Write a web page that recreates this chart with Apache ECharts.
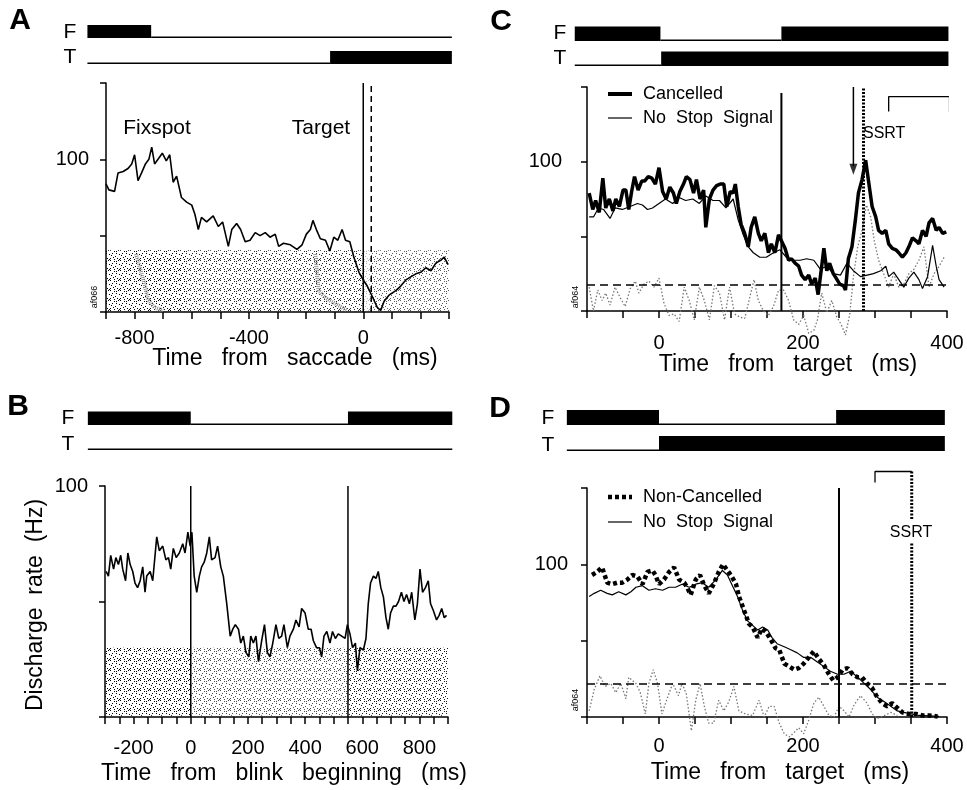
<!DOCTYPE html>
<html>
<head>
<meta charset="utf-8">
<script src="https://cdn.jsdelivr.net/npm/echarts/dist/echarts.min.js"></script>
<style>
  html, body { margin: 0; padding: 0; background: #fff; }
  #chart { width: 967px; height: 790px; }
</style>
</head>
<body>
<div id="chart"></div>
<script>
// ---------- Panel A: activity aligned on saccade ----------
const saccadeTime = [-900,-890,-870,-858,-840,-823,-810,-800,-788,-776,
  -762,-750,-740,-730,-718,-703,-689,-677,-665,-653,
  -636,-618,-600,-589,-577,-566,-548,-525,-507,-492,
  -472,-460,-443,-429,-413,-396,-378,-361,-343,-326,
  -308,-296,-279,-255,-232,-214,-199,-185,-176,-164,
  -150,-132,-117,-103,-89,-74,-62,-47,-33,-15,
  0,14,32,49,61,73,90,114,131,149,
  166,184,201,219,237,254,272,283,297];
const saccadeRate = [84,80,79,91,92,94,97,103,86,91,
  97,100,108,97,100,104,99,103,85,89,
  75,72,70,64,54,62,59,63,56,59,
  43,54,58,54,46,47,52,50,52,49,
  51,43,45,44,41,44,51,54,60,54,
  48,47,40,49,47,54,47,46,36,26,
  21,17,10,3,1,7,11,14,17,21,
  23,25,26,29,27,32,34,36,31];
const saccadeEnd = 28;                    // dashed marker after saccade onset
// fixation spot / target presence: [start, end, on]
const fixspotA = [[-965,-742,1],[-742,310,0]];
const targetA  = [[-965,-116,0],[-116,310,1]];
// trial alignment streaks in the raster: [time, rasterRow]
const fixStreakT = [-795,-780,-765,-753,-730,-700];
const fixStreakY = [38,28,18,8,3,1];
const tgtStreakT = [-168,-162,-156,-130,-103,-56];
const tgtStreakY = [38,26,14,9,6,1];

// ---------- Panel B: activity aligned on blink ----------
const blinkTime = [-296,-288,-280,-270,-262,-253,-245,-238,-228,-220,
  -212,-203,-195,-186,-177,-168,-160,-154,-142,-133,
  -119,-110,-98,-87,-78,-70,-61,-51,-40,-28,
  -20,-10,-2,4,12,21,30,38,47,56,
  65,73,85,94,105,114,126,138,147,156,
  167,175,184,193,203,210,219,228,237,248,
  258,268,277,287,298,308,318,326,338,347,
  359,368,379,388,400,411,421,429,440,450,
  458,466,476,487,496,506,516,528,540,548,
  557,566,576,583,592,604,613,621,629,639,
  648,656,665,674,683,691,699,709,718,727,
  737,746,755,765,773,784,793,802,811,821,
  831,839,849,860,869,878,887,895];
const blinkRate = [63,61,70,64,69,66,70,64,59,71,
  66,63,58,56,59,65,54,61,63,59,
  78,72,74,68,69,64,73,69,71,75,
  71,80,74,80,61,54,61,65,67,71,
  78,68,69,74,65,61,49,35,38,40,
  38,32,35,28,26,35,32,35,24,33,
  40,28,26,32,40,34,35,40,30,35,
  38,42,39,47,45,38,38,33,30,30,
  26,35,37,32,37,34,36,35,34,40,
  36,30,32,20,30,29,34,49,58,61,
  60,63,56,52,43,38,45,48,48,50,
  54,50,53,49,54,42,49,64,54,56,
  59,49,46,42,44,47,43,44];
const blinkMarks = [0, 550];
const fixspotB = [[-360,0,1],[0,550,0],[550,915,1]];
const targetB  = [[-360,915,0]];

// ---------- Panel C: cancelled vs no-stop-signal trials ----------
const cTime = [-97,-92,-88,-83,-78,-74,-69,-64,-60,-55,
  -50,-46,-42,-38,-34,-29,-24,-20,-15,-10,
  -5,0,5,10,15,20,24,29,34,38,
  43,48,52,57,62,65,70,75,80,85,
  90,94,99,103,106,110,114,119,124,128,
  133,138,142,147,152,156,161,166,170,175,
  180,184,189,194,198,203,208,212,217,221,
  226,229,233,237,242,246,251,256,259,263,
  268,273,277,282,287,291,296,301,305,310,
  315,319,324,329,333,338,343,347,352,357,
  361,366,371,375,380,385,389,394,399];
const cancelledRate = [79,68,74,66,89,69,75,67,75,70,
  81,81,68,80,90,81,87,87,90,89,
  85,96,80,75,83,79,72,80,85,90,
  88,79,88,75,81,56,75,81,84,85,
  85,70,80,79,85,70,58,52,43,56,
  63,52,47,52,39,45,39,51,47,42,
  34,35,32,30,24,21,24,18,22,11,
  30,42,27,32,25,22,18,17,14,35,
  43,62,79,88,101,87,70,63,54,52,
  54,45,42,41,39,36,39,43,49,47,
  45,54,50,59,62,54,56,52,53];
const cNoStopTime = [-97,-91,-84,-77,-68,-61,-51,-40,-30,-23,
  -16,-9,0,9,19,28,37,47,56,65,
  75,84,93,103,110,117,124,131,140,149,
  159,168,177,187,196,205,215,224,233,242,
  252,261,270,280,289,298,308,315,319,326,
  333,340,347,354,361,366,373,380,385,389,
  396];
const cNoStopRate = [63,63,69,68,62,69,68,70,72,71,
  68,69,72,75,72,76,74,75,72,77,
  74,74,69,75,61,51,43,39,36,36,
  39,41,36,34,34,35,34,28,30,25,
  24,32,27,23,24,25,27,30,23,26,
  21,16,22,26,21,15,23,44,30,21,
  16];
const cDiffTime = [-97,-91,-85,-79,-74,-68,-61,-54,-47,-40,
  -33,-28,-21,-14,-7,0,7,14,21,28,
  35,42,49,56,63,70,77,84,91,98,
  105,112,119,126,132,138,145,152,159,166,
  173,180,187,194,201,208,215,220,226,233,
  240,247,253,259,265,270,276,282,288,294,
  299,305,312,319,326,333,340,347,354,361,
  368,375,382,389,396];
const cDiffRate = [16,0,14,7,12,4,16,9,3,15,
  20,12,18,20,16,22,5,-3,-2,-7,
  16,7,-6,16,7,-6,17,12,-6,16,
  -2,-4,-5,9,21,7,0,-3,3,14,
  14,7,-6,-9,-3,-15,-13,-6,12,-1,
  7,-4,-9,-16,-2,23,43,54,71,63,
  47,34,25,16,25,16,18,25,28,34,
  43,16,25,30,36];
const cStopDelay = 170, cDivergence = 270, cSSRT = 284, cCriterion = 17.4;
const cBracket = [319, 403];
const fixspotC = [[-117,2,1],[2,170,0],[170,402,1]];
const targetC  = [[-117,3,0],[3,402,1]];

// ---------- Panel D: non-cancelled vs no-stop-signal trials ----------
const dTime = [-93,-86,-79,-72,-65,-58,-51,-44,-37,-30,
  -23,-16,-9,-5,0,7,14,21,28,35,
  39,44,51,57,63,69,76,83,89,95,
  101,107,111,118,125,130,137,143,148,155,
  162,167,174,181,188,194,201,208,215,222,
  229,236,242,248,255,262,269,276,282,289,
  296,303,310,317,324,331,338,347,357,366,
  375,387];
const nonCancelledRate = [93,95,98,88,87,88,88,90,93,92,
  87,95,96,93,87,90,95,98,90,88,
  85,80,90,93,86,81,87,95,100,96,
  92,87,79,70,61,59,52,58,56,51,
  45,44,35,33,31,32,35,39,43,38,
  34,28,24,26,31,32,28,26,26,22,
  19,13,9,7,9,6,3,2,2,1,
  1,0.4];
const dNoStopTime = [-97,-90,-81,-72,-65,-56,-46,-39,-32,-23,
  -14,-5,5,14,23,32,42,51,60,69,
  79,88,95,102,109,116,123,130,137,144,
  151,157,164,174,183,192,201,211,220,229,
  238,248,257,266,276,285,294,303,313,322,
  331,340,350,361,375,389];
const dNoStopRate = [79,81,83,81,80,82,80,82,85,86,
  83,84,83,85,85,87,85,87,88,85,
  90,96,93,86,79,70,63,60,57,59,
  57,52,48,46,44,42,39,39,36,33,
  30,28,28,30,26,22,18,13,10,7,
  4,3,2,1,0.7,0.4];
const dDiffTime = [-97,-90,-82,-75,-67,-60,-53,-46,-42,-32,
  -26,-19,-14,-8,-2,4,12,19,27,32,
  38,45,51,57,63,69,76,83,90,97,
  104,111,120,130,139,146,153,160,167,174,
  181,188,194,201,208,215,222,229,236,243,
  250,257,264,271,280,289,296,303,313,322,
  331];
const dDiffRate = [4,18,27,20,22,16,22,12,26,22,
  16,2,22,31,22,2,13,22,14,22,
  15,-9,11,22,7,-4,-4,11,4,10,
  20,4,2,1,11,0,7,7,-4,-11,
  -13,-10,-7,-11,-2,9,13,7,1,0,
  7,4,0,8,14,9,2,-1,1,3,
  1];
const dStopDelay = 250, dSSRT = 351, dCriterion = 21.6;
const dBracket = [300, 351];
const fixspotD = [[-128,0,1],[0,246,0],[246,397,1]];
const targetD  = [[-128,0,0],[0,397,1]];

// ---------- layout ----------
const FONT = '"Liberation Sans", Arial, sans-serif';
const plots = [
  { left: 106, top: 83,  width: 343, height: 229, xMin: -900, xMax: 300, xStep: 100, labelEvery: 400, yMax: 150, xMargin: 16, yMargin: 17 },
  { left: 105, top: 486, width: 343, height: 231, xMin: -300, xMax: 900, xStep: 50,  labelEvery: 200, yMax: 100, xMargin: 21, yMargin: 17 },
  { left: 587, top: 87,  width: 360, height: 224, xMin: -100, xMax: 400, xStep: 50,  labelEvery: 200, yMax: 150, xMargin: 22, yMargin: 25 },
  { left: 587, top: 488, width: 360, height: 229, xMin: -100, xMax: 400, xStep: 50,  labelEvery: 200, yMax: 150, xMargin: 19, yMargin: 19 }
];
// event strips: time span, baseline of F row, baseline of T row, bar thickness
const strips = [
  { span: [-965, 310], fBase: 38,  tBase: 64,  thick: 13, fix: fixspotA, tgt: targetA },
  { span: [-360, 915], fBase: 425, tBase: 450, thick: 13.5, fix: fixspotB, tgt: targetB },
  { span: [-117, 402], fBase: 41,  tBase: 66,  thick: 14.5, fix: fixspotC, tgt: targetC },
  { span: [-128, 397], fBase: 425, tBase: 451, thick: 15, fix: fixspotD, tgt: targetD }
];

const grids = [], xAxes = [], yAxes = [];
plots.forEach((p, i) => {
  grids.push({ left: p.left, top: p.top, width: p.width, height: p.height });
  xAxes.push({
    type: 'value', gridIndex: i, min: p.xMin, max: p.xMax, interval: p.xStep,
    axisLine: { show: true, onZero: false, lineStyle: { color: '#000', width: 1.5 } },
    axisTick: { show: true, length: 7, lineStyle: { color: '#000', width: 1.5 } },
    splitLine: { show: false },
    axisLabel: { margin: p.xMargin, color: '#000', fontSize: 20, fontFamily: FONT,
      formatter: v => (v % p.labelEvery === 0 ? String(v) : '') }
  });
  yAxes.push({
    type: 'value', gridIndex: i, min: 0, max: p.yMax, interval: 50,
    axisLine: { show: true, onZero: false, lineStyle: { color: '#000', width: 1.5 } },
    axisTick: { show: true, length: 6, lineStyle: { color: '#000', width: 1.5 } },
    splitLine: { show: false },
    axisLabel: { margin: p.yMargin, color: '#000', fontSize: 20, fontFamily: FONT, showMaxLabel: true,
      formatter: v => (v === 100 ? '100' : '') }
  });
});
strips.forEach((s, i) => {
  const p = plots[i];
  const scale = p.width / (p.xMax - p.xMin);
  grids.push({
    left: p.left + (s.span[0] - p.xMin) * scale,
    width: (s.span[1] - s.span[0]) * scale,
    top: s.fBase, height: s.tBase - s.fBase
  });
  xAxes.push({ type: 'value', gridIndex: 4 + i, min: s.span[0], max: s.span[1], show: false });
  yAxes.push({ type: 'value', gridIndex: 4 + i, min: 0, max: 1, show: false });
});

// ---------- series helpers ----------
function pairs(xs, ys) { return xs.map((x, k) => [x, ys[k]]); }
function curve(ax, xs, ys, style, z) {
  return {
    type: 'line', xAxisIndex: ax, yAxisIndex: ax, data: pairs(xs, ys),
    symbol: 'none', showSymbol: false, clip: false, silent: true, z: z || 5,
    lineStyle: Object.assign({ color: '#000', width: 1.5 }, style)
  };
}
function segment(ax, pts, style, z) {
  return {
    type: 'line', xAxisIndex: ax, yAxisIndex: ax, data: pts,
    symbol: 'none', showSymbol: false, clip: false, silent: true, z: z || 4,
    lineStyle: Object.assign({ color: '#000', width: 1.5 }, style)
  };
}
// stippled fill used for the spike rasters
const STIPPLE_DOTS = [[0,0],[4,1],[8,0],[2,3],[6,3],[9,4],[1,5],[5,6],[3,7],[7,8],[0,8],[9,9],[4,9],[6,1]];
function stipple(alpha) {
  const c = document.createElement('canvas');
  c.width = 10; c.height = 10;
  const g = c.getContext('2d');
  g.fillStyle = 'rgba(0,0,0,' + alpha + ')';
  STIPPLE_DOTS.forEach(q => g.fillRect(q[0], q[1], 1, 1));
  return { image: c, repeat: 'repeat' };
}
function raster(ax, blocks, top) {
  return {
    type: 'line', xAxisIndex: ax, yAxisIndex: ax, data: [], z: 1, silent: true,
    markArea: {
      silent: true,
      data: blocks.map(b => [
        { xAxis: b[0], yAxis: 0.5, itemStyle: { color: stipple(b[2]) } },
        { xAxis: b[1], yAxis: top }
      ])
    }
  };
}
function events(i) {
  const s = strips[i];
  const data = s.fix.map(r => [r[0], r[1], 1, r[2]]).concat(s.tgt.map(r => [r[0], r[1], 0, r[2]]));
  return {
    type: 'custom', xAxisIndex: 4 + i, yAxisIndex: 4 + i, data, silent: true, clip: false,
    encode: { x: [0, 1], y: 2 },
    renderItem: (params, api) => {
      const a = api.coord([api.value(0), api.value(2)]);
      const b = api.coord([api.value(1), api.value(2)]);
      if (api.value(3)) {
        return { type: 'rect', shape: { x: a[0], y: a[1] - s.thick, width: b[0] - a[0], height: s.thick },
                 style: { fill: '#000' } };
      }
      return { type: 'line', shape: { x1: a[0], y1: a[1] - 0.7, x2: b[0], y2: b[1] - 0.7 },
               style: { stroke: '#000', lineWidth: 1.5 } };
    }
  };
}

const series = [
  // A
  raster(0, [[-900, -620, 1], [-620, 0, 0.85], [0, 25, 0.3], [25, 300, 0.65]], 40.5),
  segment(0, pairs(fixStreakT, fixStreakY), { color: '#999', width: 4, type: [1, 1] }, 2),
  segment(0, pairs(tgtStreakT, tgtStreakY), { color: '#999', width: 4, type: [1, 1] }, 2),
  segment(0, [[0, 0], [0, 150]], { width: 1.5 }),
  segment(0, [[saccadeEnd, 0], [saccadeEnd, 150]], { width: 1.5, type: [6, 4] }),
  curve(0, saccadeTime, saccadeRate, { width: 1.6 }),
  // B
  raster(1, [[-300, 0, 1], [0, 550, 0.7], [550, 900, 0.9]], 30),
  segment(1, [[blinkMarks[0], 0], [blinkMarks[0], 100]], { width: 1.5 }),
  segment(1, [[blinkMarks[1], 0], [blinkMarks[1], 100]], { width: 1.5 }),
  curve(1, blinkTime, blinkRate, { width: 1.6 }),
  // C
  segment(2, [[-100, cCriterion], [400, cCriterion]], { width: 1.5, type: [8, 5] }),
  segment(2, [[cStopDelay, 0], [cStopDelay, 146]], { width: 2 }),
  segment(2, [[cDivergence, 150], [cDivergence, 97]], { width: 1.5 }),
  {
    type: 'scatter', xAxisIndex: 2, yAxisIndex: 2, data: [[cDivergence, 95]], silent: true, z: 6,
    symbol: 'triangle', symbolRotate: 180, symbolSize: [8, 11], itemStyle: { color: '#000' }
  },
  segment(2, [[cSSRT, 0], [cSSRT, 149]], { width: 3, type: [2, 1.5] }, 6),
  segment(2, [[cBracket[0], 133.6], [cBracket[0], 143.6], [cBracket[1], 143.6]], { width: 1.3 }),
  segment(2, [[cBracket[1], 143.6], [cBracket[1], 133]], { width: 1.3, color: '#777', type: [1, 1] }),
  curve(2, cDiffTime, cDiffRate, { width: 1.3, color: '#777', type: [1.5, 2] }, 3),
  curve(2, cNoStopTime, cNoStopRate, { width: 1.2 }, 5),
  curve(2, cTime, cancelledRate, { width: 3.5 }, 6),
  // D
  segment(3, [[-100, dCriterion], [400, dCriterion]], { width: 1.5, type: [8, 5] }),
  segment(3, [[dStopDelay, 0], [dStopDelay, 150]], { width: 2 }),
  segment(3, [[dSSRT, 160.8], [dSSRT, 128.8]], { width: 3, type: [2, 1.5] }, 6),
  segment(3, [[dSSRT, 113.7], [dSSRT, 0]], { width: 3, type: [2, 1.5] }, 6),
  segment(3, [[dBracket[0], 153.6], [dBracket[0], 160.8], [dBracket[1], 160.8]], { width: 1.3 }),
  curve(3, dDiffTime, dDiffRate, { width: 1.3, color: '#777', type: [1.5, 2] }, 3),
  curve(3, dNoStopTime, dNoStopRate, { width: 1.2 }, 5),
  curve(3, dTime, nonCancelledRate, { width: 4.5, type: [4, 3] }, 6),
  // event strips
  events(0), events(1), events(2), events(3)
];

// ---------- text ----------
function txt(x, y, text, size, opts) {
  opts = opts || {};
  return {
    type: 'text', x, y, rotation: opts.rotation || 0, silent: true, z: 10,
    style: {
      text, fill: '#000',
      font: (opts.bold ? 'bold ' : '') + size + 'px ' + FONT,
      align: opts.align || 'center', textAlign: opts.align || 'center',
      verticalAlign: 'middle', textVerticalAlign: 'middle'
    }
  };
}
function sample(x1, x2, y, width, dash) {
  return { type: 'line', silent: true, z: 10,
    shape: { x1, y1: y, x2, y2: y },
    style: { stroke: '#000', lineWidth: width, lineDash: dash || null } };
}
const graphics = [
  txt(20, 21, 'A', 30, { bold: true }),
  txt(18, 407, 'B', 30, { bold: true }),
  txt(501, 22, 'C', 30, { bold: true }),
  txt(500, 409, 'D', 30, { bold: true }),
  txt(70, 32, 'F', 21), txt(70, 57, 'T', 21),
  txt(68, 418, 'F', 21), txt(68, 444, 'T', 21),
  txt(560, 33, 'F', 21), txt(560, 58, 'T', 21),
  txt(548, 418, 'F', 21), txt(548, 445, 'T', 21),
  txt(295, 359, 'Time   from   saccade   (ms)', 23),
  txt(284, 774, 'Time   from   blink   beginning   (ms)', 23),
  txt(788, 365, 'Time   from   target   (ms)', 23),
  txt(780, 773, 'Time   from   target   (ms)', 23),
  txt(36, 605, 'Discharge  rate  (Hz)', 23, { rotation: Math.PI / 2 }),
  txt(157, 128, 'Fixspot', 21),
  txt(321, 128, 'Target', 21),
  txt(95, 297, 'af066', 9, { rotation: Math.PI / 2 }),
  txt(576, 297, 'af064', 9, { rotation: Math.PI / 2 }),
  txt(576, 700, 'af064', 9, { rotation: Math.PI / 2 }),
  sample(608, 632, 94, 4),
  txt(643, 94, 'Cancelled', 18, { align: 'left' }),
  sample(608, 632, 118, 1.2),
  txt(643, 118, 'No  Stop  Signal', 18, { align: 'left' }),
  txt(863, 134, 'SSRT', 16, { align: 'left' }),
  sample(608, 632, 497, 4.5, [4, 3]),
  txt(643, 497, 'Non-Cancelled', 18, { align: 'left' }),
  sample(608, 632, 522, 1.2),
  txt(643, 522, 'No  Stop  Signal', 18, { align: 'left' }),
  txt(911, 533, 'SSRT', 16)
];

const chart = echarts.init(document.getElementById('chart'), null, { renderer: 'canvas' });
chart.setOption({
  animation: false,
  backgroundColor: '#fff',
  textStyle: { fontFamily: FONT },
  grid: grids,
  xAxis: xAxes,
  yAxis: yAxes,
  series,
  graphic: graphics
});
</script>
</body>
</html>
